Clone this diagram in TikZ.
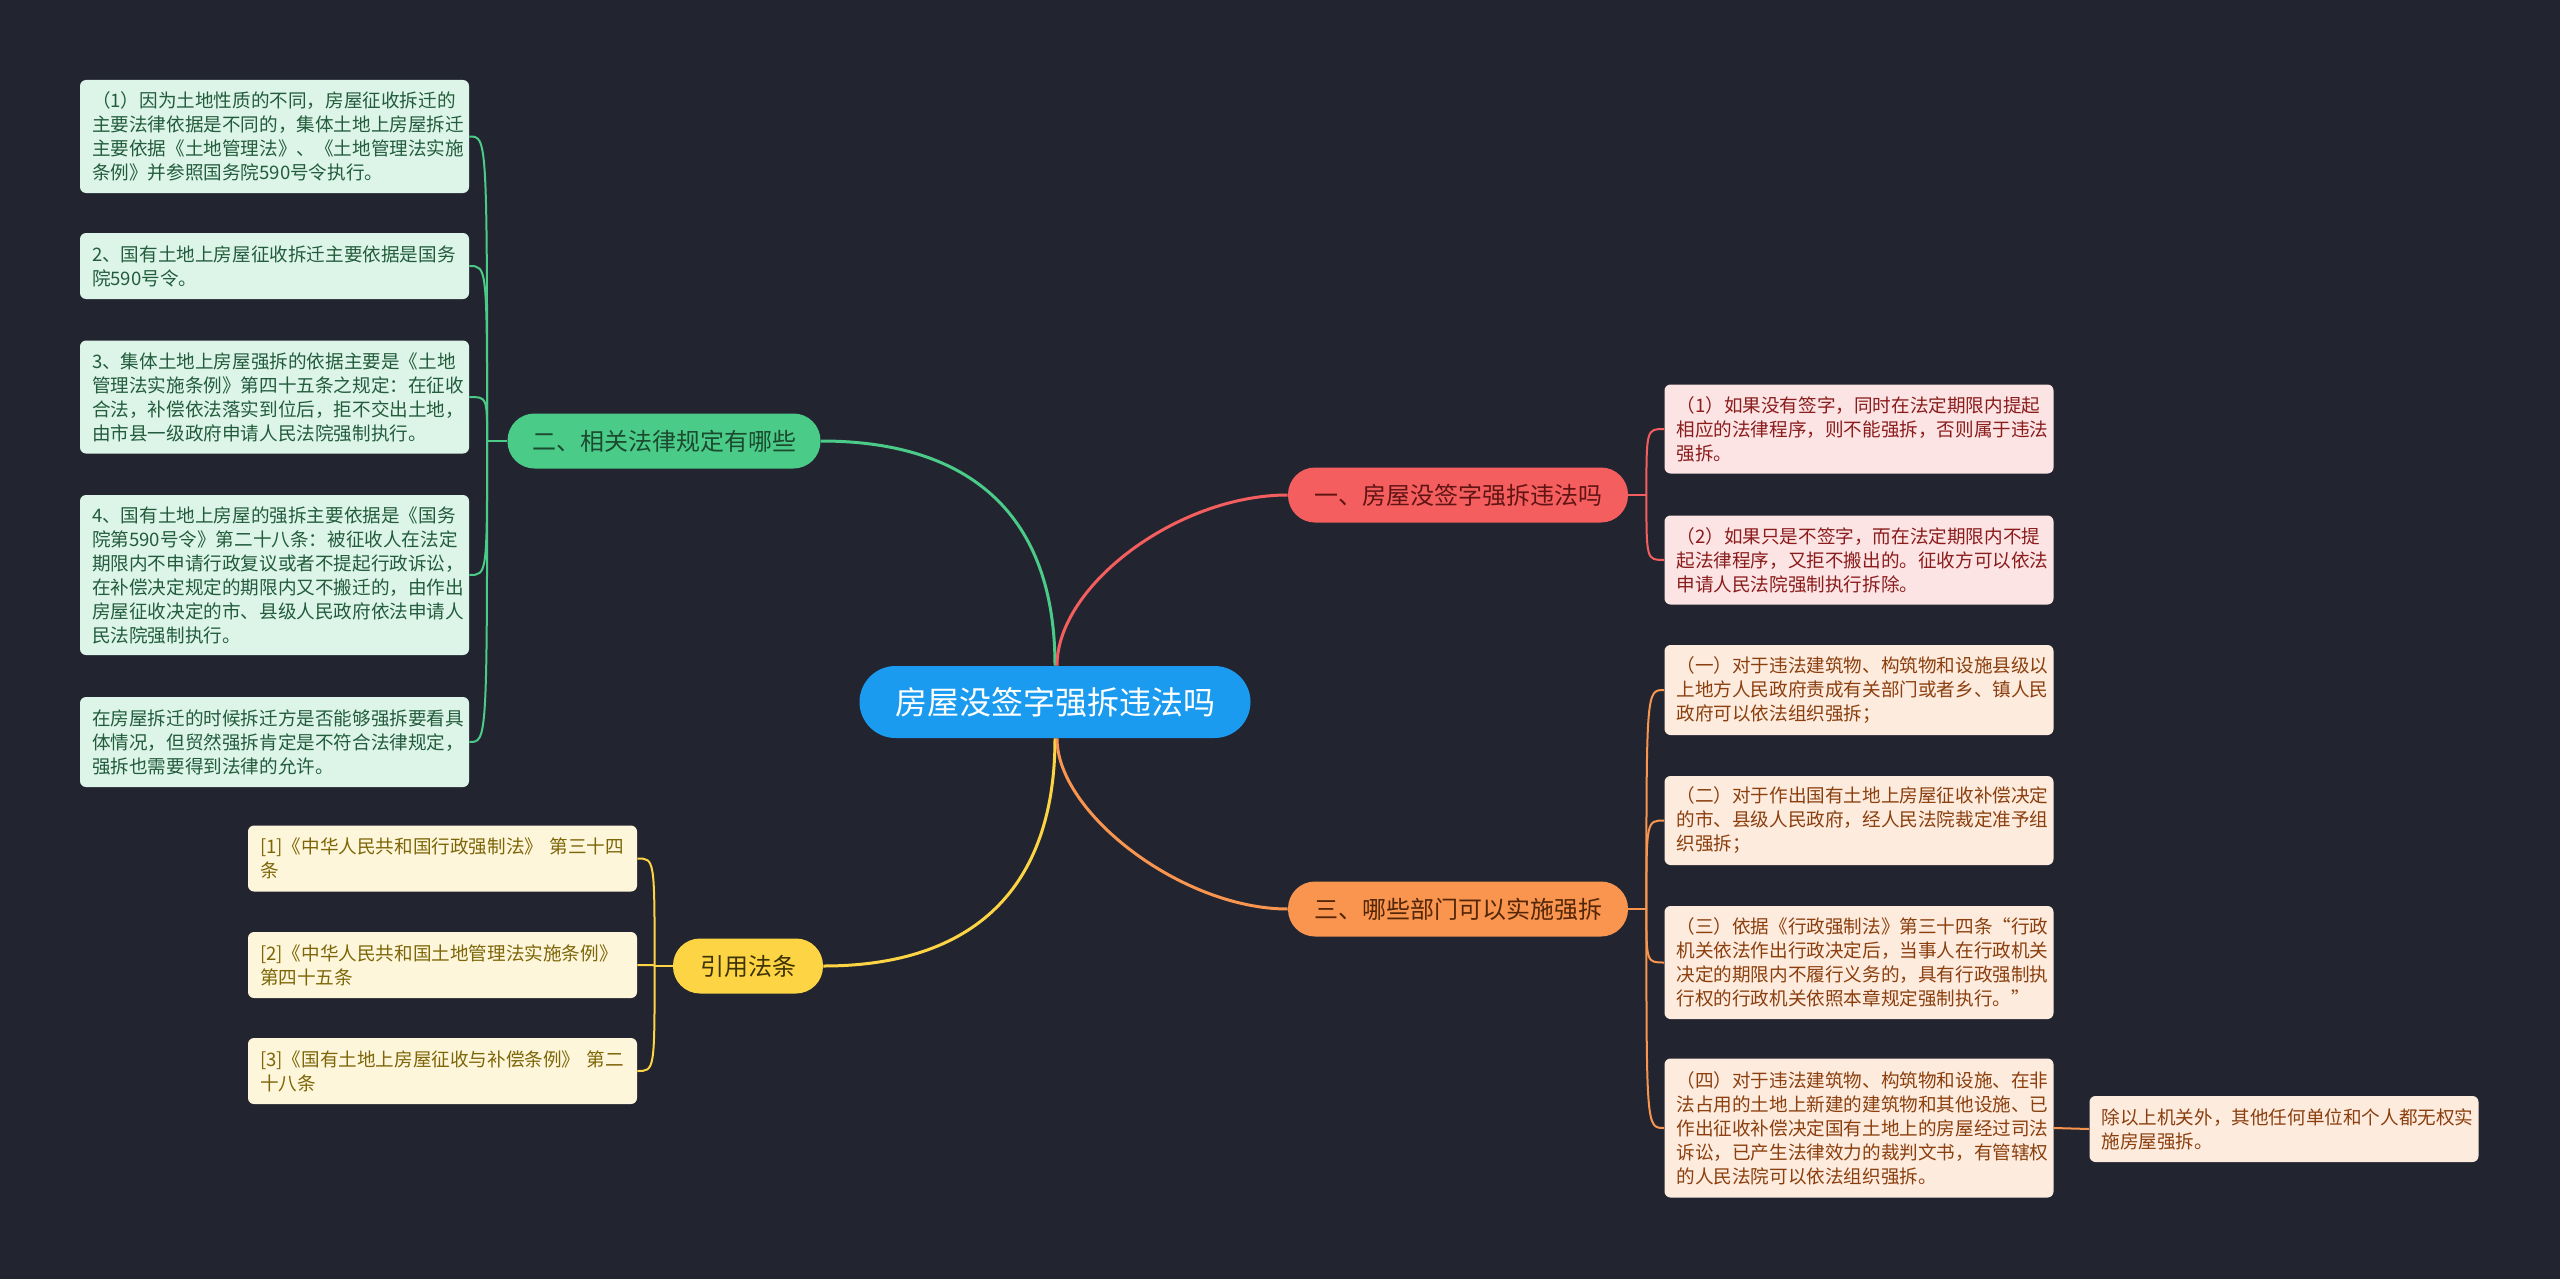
\documentclass[tikz,border=0pt]{standalone}
\usepackage{fontspec}
\setmainfont{Noto Sans CJK SC}
\usepackage{xcolor}
\usepackage{tikz}
\usetikzlibrary{calc}
\definecolor{MapBg}{HTML}{222530}
\definecolor{MapBlue}{HTML}{1A9BF0}
\definecolor{MapGreen}{HTML}{4BCB88}
\definecolor{MapGreenLeaf}{HTML}{DDF5E8}
\definecolor{MapGreenText}{HTML}{235C3C}
\definecolor{MapRed}{HTML}{F55E5E}
\definecolor{MapRedLeaf}{HTML}{FDE4E4}
\definecolor{MapRedText}{HTML}{8A1C1C}
\definecolor{MapOrange}{HTML}{F9954F}
\definecolor{MapOrangeLeaf}{HTML}{FDEBDE}
\definecolor{MapOrangeText}{HTML}{8B3F0E}
\definecolor{MapYellow}{HTML}{FDD444}
\definecolor{MapYellowLeaf}{HTML}{FEF6DB}
\definecolor{MapYellowText}{HTML}{7D6608}

\begin{document}
\begin{tikzpicture}[x=0.5pt, y=-0.5pt,
  root/.style={fill=MapBlue, text=white, rounded corners=18pt,
               minimum width=195.5pt, minimum height=36pt, inner sep=0pt,
               font=\fontsize{16}{19}\selectfont},
  topic/.style={rounded corners=13.5pt, minimum height=27.5pt, inner sep=0pt,
                font=\fontsize{12}{14}\selectfont},
  leaf/.style={rounded corners=3pt, text width=182.5pt, inner xsep=6pt,
               inner ysep=2pt, align=left, font=\fontsize{9.3}{12}\selectfont},
  gleaf/.style={leaf, fill=MapGreenLeaf, text=MapGreenText},
  rleaf/.style={leaf, fill=MapRedLeaf, text=MapRedText},
  oleaf/.style={leaf, fill=MapOrangeLeaf, text=MapOrangeText},
  yleaf/.style={leaf, fill=MapYellowLeaf, text=MapYellowText},
  wire/.style={line width=1.5pt},
  twig/.style={line width=1pt},
]
\fill[MapBg] (0,0) rectangle (2560,1279);
\useasboundingbox (0,0) rectangle (2560,1279);

%% ---- centre ----
\node[root] (root) at (1055,702) {房屋没签字强拆违法吗};

%% ---- topics ----
\node[topic, fill=MapGreen, text=MapGreenText!80!black, minimum width=156.5pt] (g) at (664,441) {二、相关法律规定有哪些};
\node[topic, fill=MapRed, text=MapRedText!70!black, minimum width=170pt] (r) at (1458,495) {一、房屋没签字强拆违法吗};
\node[topic, fill=MapOrange, text=MapOrangeText!60!black, minimum width=170pt] (o) at (1458,909) {三、哪些部门可以实施强拆};
\node[topic, fill=MapYellow, text=MapYellowText!50!black, minimum width=75pt] (y) at (748,966) {引用法条};

%% ---- left: legal basis ----
\node[gleaf, minimum height=56.5pt] (g1) at (274.5,136.5)
  {（1）因为土地性质的不同，房屋征收拆迁的\\主要法律依据是不同的，集体土地上房屋拆迁\\主要依据《土地管理法》、《土地管理法实施\\条例》并参照国务院590号令执行。};
\node[gleaf, minimum height=33pt] (g2) at (274.5,266)
  {2、国有土地上房屋征收拆迁主要依据是国务\\院590号令。};
\node[gleaf, minimum height=56.5pt] (g3) at (274.5,397)
  {3、集体土地上房屋强拆的依据主要是《土地\\管理法实施条例》第四十五条之规定：在征收\\合法，补偿依法落实到位后，拒不交出土地，\\由市县一级政府申请人民法院强制执行。};
\node[gleaf, minimum height=80pt] (g4) at (274.5,575)
  {4、国有土地上房屋的强拆主要依据是《国务\\院第590号令》第二十八条：被征收人在法定\\期限内不申请行政复议或者不提起行政诉讼，\\在补偿决定规定的期限内又不搬迁的，由作出\\房屋征收决定的市、县级人民政府依法申请人\\民法院强制执行。};
\node[gleaf, minimum height=45pt] (g5) at (274.5,742)
  {在房屋拆迁的时候拆迁方是否能够强拆要看具\\体情况，但贸然强拆肯定是不符合法律规定，\\强拆也需要得到法律的允许。};

%% ---- left: cited articles ----
\node[yleaf, minimum height=33pt] (y1) at (442.5,858.5)
  {[1]《中华人民共和国行政强制法》 第三十四\\条};
\node[yleaf, minimum height=33pt] (y2) at (442.5,965)
  {[2]《中华人民共和国土地管理法实施条例》\\第四十五条};
\node[yleaf, minimum height=33pt] (y3) at (442.5,1071)
  {[3]《国有土地上房屋征收与补偿条例》 第二\\十八条};

%% ---- right: is it illegal ----
\node[rleaf, minimum height=44.5pt] (r1) at (1859,429)
  {（1）如果没有签字，同时在法定期限内提起\\相应的法律程序，则不能强拆，否则属于违法\\强拆。};
\node[rleaf, minimum height=44.5pt] (r2) at (1859,560)
  {（2）如果只是不签字，而在法定期限内不提\\起法律程序，又拒不搬出的。征收方可以依法\\申请人民法院强制执行拆除。};

%% ---- right: who may demolish ----
\node[oleaf, minimum height=45pt] (o1) at (1859,690)
  {（一）对于违法建筑物、构筑物和设施县级以\\上地方人民政府责成有关部门或者乡、镇人民\\政府可以依法组织强拆；};
\node[oleaf, minimum height=44.5pt] (o2) at (1859,820.5)
  {（二）对于作出国有土地上房屋征收补偿决定\\的市、县级人民政府，经人民法院裁定准予组\\织强拆；};
\node[oleaf, minimum height=56.5pt] (o3) at (1859,962.5)
  {（三）依据《行政强制法》第三十四条“行政\\机关依法作出行政决定后，当事人在行政机关\\决定的期限内不履行义务的，具有行政强制执\\行权的行政机关依照本章规定强制执行。”};
\node[oleaf, minimum height=69.5pt] (o4) at (1859,1128)
  {（四）对于违法建筑物、构筑物和设施、在非\\法占用的土地上新建的建筑物和其他设施、已\\作出征收补偿决定国有土地上的房屋经过司法\\诉讼，已产生法律效力的裁判文书，有管辖权\\的人民法院可以依法组织强拆。};
\node[oleaf, minimum height=33pt] (ox) at (2284,1129)
  {除以上机关外，其他任何单位和个人都无权实\\施房屋强拆。};

%% ---- main branches ----
\draw[wire, MapGreen] (root.north) .. controls +(0,-150) and +(150,0) .. (g.east);
\draw[wire, MapRed] ([xshift=1pt]root.north) .. controls +(0,-80) and +(-110,0) .. (r.west);
\draw[wire, MapYellow] (root.south) .. controls +(0,150) and +(150,0) .. (y.east);
\draw[wire, MapOrange] ([xshift=1pt]root.south) .. controls +(0,75) and +(-105,0) .. (o.west);

%% ---- twigs ----
\coordinate (gj) at ([xshift=-10pt]g.west);
\coordinate (yj) at ([xshift=-9pt]y.west);
\coordinate (rj) at ([xshift=9pt]r.east);
\coordinate (oj) at ([xshift=9pt]o.east);
\draw[twig, MapGreen] (g.west) -- (gj);
\draw[twig, MapYellow] (y.west) -- (yj);
\draw[twig, MapRed] (r.east) -- (rj);
\draw[twig, MapOrange] (o.east) -- (oj);
\foreach \l in {g1,g2,g3,g4,g5}
  \draw[twig, MapGreen] (gj) .. controls (gj |- \l.east) .. (\l.east);
\foreach \l in {y1,y2,y3}
  \draw[twig, MapYellow] (yj) .. controls (yj |- \l.east) .. (\l.east);
\foreach \l in {r1,r2}
  \draw[twig, MapRed] (rj) .. controls (rj |- \l.west) .. (\l.west);
\foreach \l in {o1,o2,o3,o4}
  \draw[twig, MapOrange] (oj) .. controls (oj |- \l.west) .. (\l.west);
\draw[twig, MapOrange] (o4.east) -- (ox.west);
\end{tikzpicture}
\end{document}
